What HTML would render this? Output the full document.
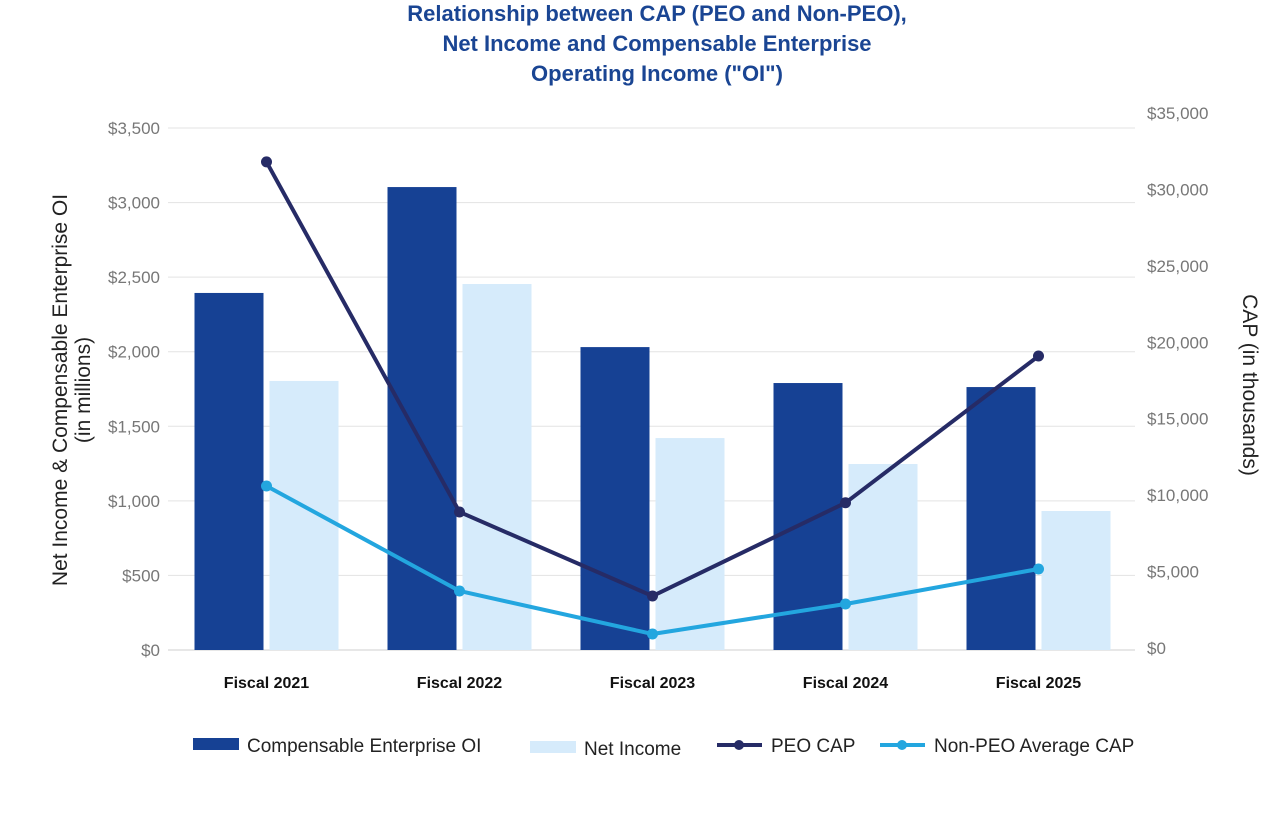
<!DOCTYPE html>
<html><head><meta charset="utf-8"><style>
body{margin:0;background:#fff;}
svg text{font-family:"Liberation Sans",Arial,sans-serif;}
</style></head><body>
<svg width="1264" height="814" viewBox="0 0 1264 814">
<g fill="#1a4593" font-weight="bold" font-size="22" text-anchor="middle">
<text x="657" y="21">Relationship between CAP (PEO and Non-PEO),</text>
<text x="657" y="51">Net Income and Compensable Enterprise</text>
<text x="657" y="81">Operating Income ("OI")</text>
</g>
<g id="grid"></g>
<g id="lticks"></g>
<g id="rticks"></g>
<g id="bars"></g>
<g id="lines"></g>
<g id="xlabels"></g>
<g transform="translate(67,390) rotate(-90)" text-anchor="middle" font-size="21" fill="#222">
<text x="0" y="0">Net Income &amp; Compensable Enterprise OI</text>
<text x="0" y="23">(in millions)</text>
</g>
<text transform="translate(1243,385) rotate(90)" text-anchor="middle" font-size="21" fill="#222">CAP (in thousands)</text>
<g font-size="19" fill="#222">
<g><rect x="193" y="738" width="46" height="12" fill="#164194"/><text x="247" y="752">Compensable Enterprise OI</text></g>
<g><rect x="530" y="741" width="46" height="12" fill="#d6ebfb"/><text x="584" y="755">Net Income</text></g>
<g><line x1="717" y1="745" x2="762" y2="745" stroke="#262b66" stroke-width="4"/><circle cx="739" cy="745" r="5" fill="#262b66"/><text x="771" y="752">PEO CAP</text></g>
<g><line x1="880" y1="745" x2="925" y2="745" stroke="#23a6df" stroke-width="4"/><circle cx="902" cy="745" r="5" fill="#23a6df"/><text x="934" y="752">Non-PEO Average CAP</text></g>
</g>
</svg>
<script>
const categories=["Fiscal 2021","Fiscal 2022","Fiscal 2023","Fiscal 2024","Fiscal 2025"];
const oiValues=[2394,3104,2031,1790,1763];
const netIncomeValues=[1804,2454,1421,1247,932];
const peoCap=[31800,8900,3400,9500,19100];
const nonPeoCap=[10600,3730,915,2880,5170];
const leftTicks=[0,500,1000,1500,2000,2500,3000,3500];
const rightTicks=[0,5000,10000,15000,20000,25000,30000,35000];
const NS="http://www.w3.org/2000/svg";
const X0=170,X1=1135,band=(X1-X0)/categories.length;
const yL=v=>650-v/3500*522;
const yR=v=>648-v/35000*535;
const xC=i=>X0+band*(i+0.5);
function mk(tag,attrs,parent){const e=document.createElementNS(NS,tag);for(const k in attrs)e.setAttribute(k,attrs[k]);parent.appendChild(e);return e;}
const fmt=v=>"$"+v.toLocaleString("en-US");
const grid=document.getElementById("grid"),lt=document.getElementById("lticks"),rt=document.getElementById("rticks");
leftTicks.forEach(v=>{
 const l=mk("line",{x1:168,x2:X1,y1:yL(v),y2:yL(v),stroke:v===0?"#cfcfcf":"#e3e3e3","stroke-width":1},grid);
 
 
 const t=mk("text",{x:160,y:yL(v)+6,"text-anchor":"end","font-size":17,fill:"#777"},lt);
 t.textContent=fmt(v);
 
 
});
rightTicks.forEach(v=>{
 const t=mk("text",{x:1147,y:yR(v)+6,"font-size":17,fill:"#777"},rt);
 t.textContent=fmt(v);
 
 
});
const bars=document.getElementById("bars"),xl=document.getElementById("xlabels");
categories.forEach((c,i)=>{
 const cx=xC(i);
 const b1=mk("rect",{x:cx-72,y:yL(oiValues[i]),width:69,height:650-yL(oiValues[i]),fill:"#164194"},bars);
 
 
 const b2=mk("rect",{x:cx+3,y:yL(netIncomeValues[i]),width:69,height:650-yL(netIncomeValues[i]),fill:"#d6ebfb"},bars);
 
 
 const t=mk("text",{x:cx,y:688,"text-anchor":"middle","font-size":16,"font-weight":"bold",fill:"#111"},xl);
 t.textContent=c;
 
 
});
const lines=document.getElementById("lines");
[[peoCap,"#262b66","peo-cap"],[nonPeoCap,"#23a6df","non-peo-cap"]].forEach(([d,col,n])=>{
 const pts=d.map((v,i)=>xC(i)+","+yR(v)).join(" ");
 const pl=mk("polyline",{points:pts,fill:"none",stroke:col,"stroke-width":4,"stroke-linejoin":"round"},lines);
 
 
 d.forEach((v,i)=>{
  const c=mk("circle",{cx:xC(i),cy:yR(v),r:5.5,fill:col},lines);
  
  
 });
});
</script>
</body></html>
